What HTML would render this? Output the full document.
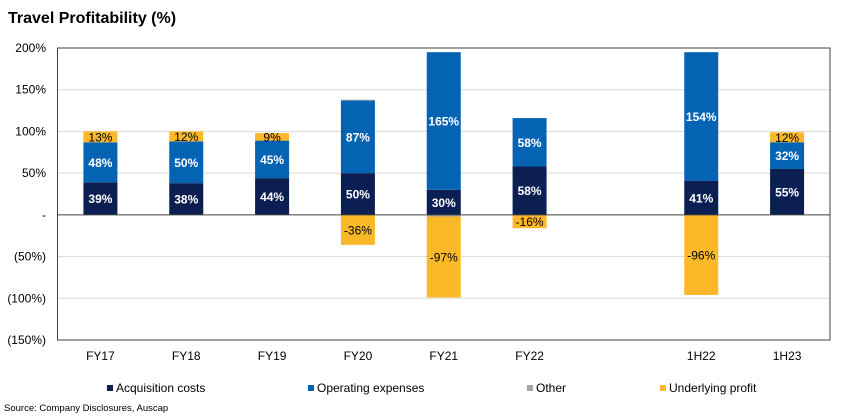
<!DOCTYPE html>
<html><head><meta charset="utf-8"><style>
body{margin:0;background:#fff;font-family:"Liberation Sans",Arial,sans-serif;}
#wrap{position:relative;width:845px;height:418px;overflow:hidden;}
</style></head><body>
<div id="wrap">
<svg id="chart" width="845" height="418"></svg>
</div>
<script>
const categories=["FY17","FY18","FY19","FY20","FY21","FY22","","1H22","1H23"];
const acquisition=[39,38,44,50,30,58,null,41,55];
const opex=[48,50,45,87,165,58,null,154,32];
const other=[0,0,0,1,-2,0,null,0,0];
const profit=[13,12,9,-36,-97,-16,null,-96,12];
const yTicks=[200,150,100,50,0,-50,-100,-150];
const yTickLabels=["200%","150%","100%","50%","-","(50%)","(100%)","(150%)"];
const seriesNames=["Acquisition costs","Operating expenses","Other","Underlying profit"];
const colors=["#0b1f52","#0563b4","#a6a6a6","#fbb829"];

const svg=document.getElementById('chart');
const NS="http://www.w3.org/2000/svg";
const L=57.5,R=830,T=48,B=340;
function y(v){return T+(200-v)/350*(B-T);}
const slot=(R-L)/categories.length;
function xc(i){return L+slot*(i+0.5);}
const bw=34;
function mk(tag,attrs,name,text){const e=document.createElementNS(NS,tag);for(const k in attrs)e.setAttribute(k,attrs[k]);


if(text!==undefined)e.textContent=text;svg.appendChild(e);return e;}

mk('text',{x:8,y:23,'font-size':16,'font-weight':'bold',fill:'#000'},'chart-title','Travel Profitability (%)');
yTicks.forEach((t,i)=>{
  if(t!==0&&t!==200)mk('line',{x1:L,x2:R,y1:y(t),y2:y(t),stroke:'#d9d9d9','stroke-width':1},'gridline');
  mk('text',{x:46,y:y(t)+4,'font-size':12,'text-anchor':'end',fill:'#000'},'y-tick-label',yTickLabels[i]);
});
mk('rect',{x:L,y:T,width:R-L,height:B-T,fill:'none',stroke:'#404040','stroke-width':1},'plot-border');

categories.forEach((c,i)=>{
  mk('text',{x:xc(i),y:B+20,'font-size':12,'text-anchor':'middle',fill:'#000'},'x-tick-label',c);
  if(acquisition[i]===null)return;
  let pos=0,neg=0;
  const vals=[acquisition[i],opex[i],other[i],profit[i]];
  vals.forEach((v,s)=>{
    if(!v)return;
    let y0,y1;
    if(v>=0){y0=y(pos+v);y1=y(pos);pos+=v;}else{y0=y(neg);y1=y(neg+v);neg+=v;}
    mk('rect',{x:xc(i)-bw/2,y:y0,width:bw,height:y1-y0,fill:colors[s]},'bar-'+seriesNames[s].toLowerCase().replace(/ /g,'-')+'-'+c.toLowerCase());
    if(s!==2){
      const ty=(y0+y1)/2+4.5;
      mk('text',{x:xc(i),y:ty,'font-size':12,'font-weight':s===3?'normal':'bold','text-anchor':'middle',fill:s===3?'#000':'#fff'},'data-label',v+'%');
    }
  });
});
mk('line',{x1:L,x2:R,y1:y(0),y2:y(0),stroke:'#404040','stroke-width':1},'zero-line');

const legX=[107,308,527,660];
seriesNames.forEach((n,i)=>{
  mk('rect',{x:legX[i],y:385,width:6,height:6,fill:colors[i]},'legend-swatch');
  mk('text',{x:legX[i]+9,y:392,'font-size':12,fill:'#000'},'legend-entry',n);
});
mk('text',{x:4,y:411,'font-size':9.5,fill:'#000'},'source-note','Source: Company Disclosures, Auscap');
</script>
</body></html>
